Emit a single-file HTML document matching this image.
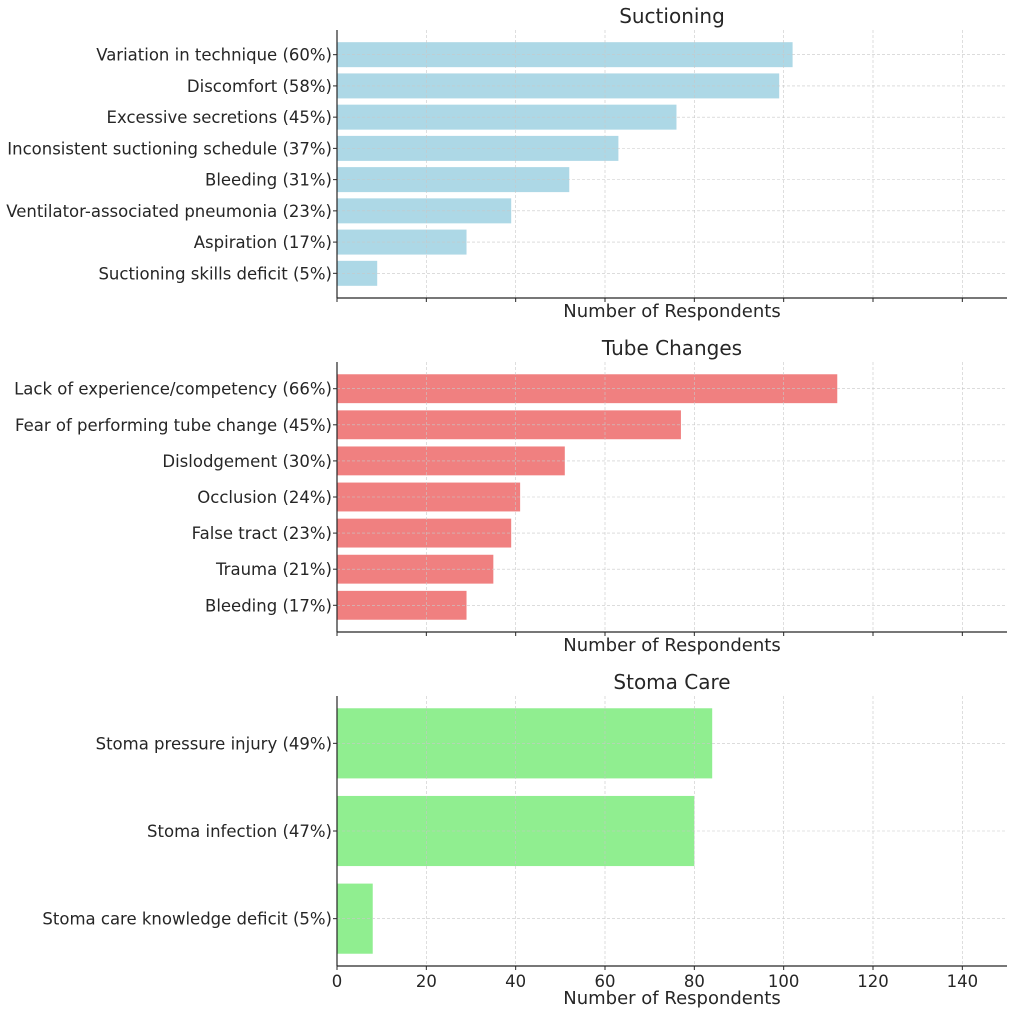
<!DOCTYPE html>
<html><head><meta charset="utf-8"><style>
body{margin:0;background:#fff}
svg text{font-family:"DejaVu Sans","Liberation Sans",sans-serif;fill:#262626}
</style></head><body>
<svg id="c" width="1015" height="1015" xmlns="http://www.w3.org/2000/svg"></svg>
<script>
const suctionCats=["Variation in technique (60%)","Discomfort (58%)","Excessive secretions (45%)","Inconsistent suctioning schedule (37%)","Bleeding (31%)","Ventilator-associated pneumonia (23%)","Aspiration (17%)","Suctioning skills deficit (5%)"];
const suctionVals=[102,99,76,63,52,39,29,9];
const tubeCats=["Lack of experience/competency (66%)","Fear of performing tube change (45%)","Dislodgement (30%)","Occlusion (24%)","False tract (23%)","Trauma (21%)","Bleeding (17%)"];
const tubeVals=[112,77,51,41,39,35,29];
const stomaCats=["Stoma pressure injury (49%)","Stoma infection (47%)","Stoma care knowledge deficit (5%)"];
const stomaVals=[84,80,8];
const xTicks=[0,20,40,60,80,100,120,140];
const titles=["Suctioning","Tube Changes","Stoma Care"];

const NS="http://www.w3.org/2000/svg";
const svg=document.getElementById('c');
function mk(t,a,p){const e=document.createElementNS(NS,t);for(const k in a)e.setAttribute(k,a[k]);(p||svg).appendChild(e);return e;}
const L=337,R=1007,XMAX=150;
const xs=v=>L+(R-L)*v/XMAX;
const panels=[
 {cats:suctionCats,vals:suctionVals,top:30,bot:298,color:"#add8e6",key:"suctioning"},
 {cats:tubeCats,vals:tubeVals,top:362,bot:632,color:"#f08080",key:"tube-changes"},
 {cats:stomaCats,vals:stomaVals,top:696,bot:966,color:"#90ee90",key:"stoma-care"}
];
const GRID={stroke:'#c8c8c8','stroke-width':0.6,'stroke-dasharray':'3,2'};
panels.forEach((p,pi)=>{
  const g=mk('g',{});
  
  
  const n=p.cats.length;
  const span=(n-1+0.8);
  const m=0.05*span, y0=-0.4-m, y1=n-1+0.4+m;
  const ys=i=>p.top+(p.bot-p.top)*(i-y0)/(y1-y0);
  const bh=(p.bot-p.top)*0.8/(y1-y0);
  p.vals.forEach((v,i)=>{
    const r=mk('rect',{x:xs(0),y:ys(i)-bh/2,width:xs(v)-xs(0),height:bh,fill:p.color},g);
    
    
    const t=mk('text',{x:L-5,y:ys(i)+6,'text-anchor':'end','font-size':16.5},g);
    t.textContent=p.cats[i];
    
    
    mk('line',Object.assign({x1:L,x2:R,y1:ys(i),y2:ys(i)},GRID),g);
    mk('line',{x1:L-4,x2:L,y1:ys(i),y2:ys(i),stroke:'#262626','stroke-width':1},g);
  });
  xTicks.forEach(t=>{
    mk('line',Object.assign({x1:xs(t),x2:xs(t),y1:p.top,y2:p.bot},GRID),g);
    mk('line',{x1:xs(t),x2:xs(t),y1:p.bot,y2:p.bot+4,stroke:'#262626','stroke-width':1},g);
    if(pi===2){const tl=mk('text',{x:xs(t),y:p.bot+21,'text-anchor':'middle','font-size':16.5},g);tl.textContent=t;
      }
  });
  mk('line',{x1:L,x2:L,y1:p.top,y2:p.bot,stroke:'#262626','stroke-width':1.2},g);
  mk('line',{x1:L,x2:R,y1:p.bot,y2:p.bot,stroke:'#262626','stroke-width':1.2},g);
  const tt=mk('text',{x:(L+R)/2,y:p.top-7,'text-anchor':'middle','font-size':20},g);
  tt.textContent=titles[pi];
  
  
  const xl=mk('text',{x:(L+R)/2,y:p.bot+(pi===2?38:19),'text-anchor':'middle','font-size':18},g);
  xl.textContent="Number of Respondents";
  
  
});
</script>
</body></html>
